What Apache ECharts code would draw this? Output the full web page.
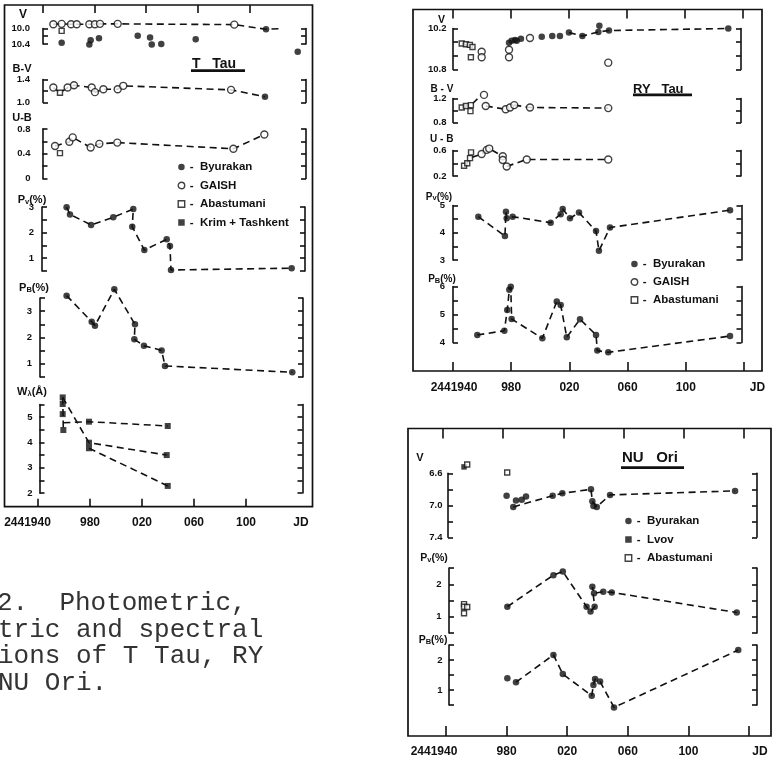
<!DOCTYPE html>
<html>
<head>
<meta charset="utf-8">
<title>T Tau, RY Tau, NU Ori</title>
<style>
  html, body { margin: 0; padding: 0; background: #fff; }
  #chart { width: 775px; height: 763px; }
</style>
</head>
<body>
<div id="chart"></div>
<script src="https://cdn.jsdelivr.net/npm/echarts@6/dist/echarts.min.js"></script>
<script>
// x is JD - 2440000, labels as printed on the plates
const jdTicks = [1940, 1980, 2020, 2060, 2100, 2140];
const jdTickLabels = ['2441940', '980', '020', '060', '100', 'JD'];

// ---------- T Tau ----------
const tTauVTicks = ['10.0', '10.4'];
const tTauBVTicks = ['1.0', '1.4'];
const tTauUBTicks = ['0', '0.4', '0.8'];
const tTauPvTicks = ['1', '2', '3'];
const tTauPbTicks = ['1', '2', '3'];
const tTauWTicks = ['2', '3', '4', '5'];

const tTauV_Byurakan = [[1958.2,10.37],[1979.5,10.41],[1980.5,10.30],[1986.9,10.25],[2016.7,10.19],[2026.2,10.23],[2027.5,10.41],[2034.8,10.40],[2061.3,10.28],[2115.4,10.02],[2139.8,10.60]];
const tTauV_GAISH = [[1951.8,9.89],[1958.2,9.88],[1965.4,9.89],[1969.8,9.89],[1979.5,9.89],[1983.8,9.89],[1987.7,9.88],[2001.3,9.88],[2091.0,9.90]];
const tTauV_Abastumani = [[1958.2,10.06]];
const tTauV_trend = [[1951.8,9.89],[1958.2,9.88],[1965.4,9.89],[1969.8,9.89],[1979.5,9.89],[1983.8,9.89],[1987.7,9.88],[2001.3,9.88],[2091.0,9.90],[2115.4,10.02],[2128.0,10.0]];

const tTauBV_GAISH = [[1951.8,1.26],[1962.8,1.26],[1967.7,1.30],[1981.3,1.26],[1983.8,1.18],[1990.3,1.23],[2001.3,1.23],[2005.6,1.29],[2088.5,1.22]];
const tTauBV_Abastumani = [[1956.9,1.17]];
const tTauBV_Byurakan = [[2114.6,1.10]];
const tTauBV_trend = [[1951.8,1.26],[1956.9,1.17],[1962.8,1.26],[1967.7,1.30],[1981.3,1.26],[1983.8,1.18],[1990.3,1.23],[2001.3,1.23],[2005.6,1.29],[2088.5,1.22],[2114.6,1.10]];

const tTauUB_GAISH = [[1953.1,0.525],[1964.1,0.595],[1966.7,0.665],[1980.5,0.50],[1987.2,0.56],[2001.0,0.58],[2090.3,0.48],[2114.1,0.71]];
const tTauUB_Abastumani = [[1956.9,0.41]];
const tTauUB_trend = [[1953.1,0.525],[1964.1,0.595],[1966.7,0.665],[1980.5,0.50],[1987.2,0.56],[2001.0,0.58],[2090.3,0.48],[2114.1,0.71]];

const tTauPv_Byurakan = [[1962.0,2.99],[1964.6,2.71],[1980.8,2.30],[1997.9,2.60],[2013.3,2.92],[2012.5,2.23],[2021.8,1.32],[2039.0,1.74],[2041.5,1.48],[2042.3,0.54],[2135.1,0.61]];
const tTauPb_Byurakan = [[1962.0,3.59],[1981.3,2.60],[1983.8,2.45],[1998.7,3.83],[2014.6,2.50],[2014.1,1.93],[2021.5,1.69],[2035.1,1.51],[2037.7,0.92],[2135.6,0.68]];

const tTauW_Krim = [[1959.0,5.78],[1959.0,5.52],[1959.0,5.12],[1959.5,4.49],[1979.2,4.82],[1979.2,3.99],[1979.2,3.77],[2039.8,4.65],[2039.0,3.50],[2039.8,2.28]];
const tTauW_trendA = [[1959.5,4.78],[1979.2,4.82],[2039.8,4.65]];
const tTauW_trendB = [[1959.0,5.78],[1979.2,3.99],[2039.0,3.50]];
const tTauW_trendC = [[1979.2,3.77],[2039.8,2.28]];
const tTauW_trendD = [[1959.0,5.78],[1959.5,4.49]];

// ---------- RY Tau ----------
const ryVTicks = ['10.2', '10.8'];
const ryBVTicks = ['0.8', '1.2'];
const ryUBTicks = ['0.2', '0.6'];
const ryPvTicks = ['3', '4', '5'];
const ryPbTicks = ['4', '5', '6'];

const ryV_Abastumani = [[1946.0,10.42],[1948.9,10.43],[1951.6,10.44],[1953.4,10.47],[1952.3,10.62]];
const ryV_GAISH = [[1959.7,10.54],[1959.7,10.62],[1978.5,10.51],[1978.5,10.62],[1992.9,10.34],[2046.7,10.70]];
const ryV_Byurakan = [[1978.5,10.41],[1980.3,10.38],[1982.6,10.37],[1983.8,10.38],[1986.7,10.35],[2001.0,10.32],[2008.2,10.31],[2013.5,10.31],[2019.7,10.26],[2028.9,10.31],[2039.9,10.25],[2040.6,10.16],[2047.2,10.23],[2129.2,10.20]];
const ryV_trendA = [[1946.0,10.42],[1953.4,10.47]];
const ryV_trendB = [[2019.7,10.26],[2028.9,10.31],[2039.9,10.25],[2047.2,10.23],[2129.2,10.20]];

const ryBV_Abastumani = [[1946.0,1.05],[1948.9,1.075],[1952.3,1.09],[1952.0,0.99]];
const ryBV_GAISH = [[1961.3,1.26],[1962.5,1.075],[1976.2,1.02],[1979.2,1.05],[1982.1,1.09],[1992.9,1.05],[2046.7,1.04]];
const ryBV_trendA = [[1946.0,1.05],[1948.9,1.075],[1952.3,1.09],[1958.0,1.22]];
const ryBV_trendB = [[1962.5,1.075],[1976.2,1.02]];
const ryBV_trendC = [[1982.1,1.09],[1992.9,1.05],[2046.7,1.04]];

const ryUB_Abastumani = [[1947.6,0.36],[1949.8,0.40],[1951.7,0.48],[1952.4,0.57]];
const ryUB_GAISH = [[1959.7,0.545],[1963.2,0.61],[1964.9,0.63],[1974.2,0.51],[1974.2,0.45],[1976.9,0.35],[1990.7,0.46],[2046.7,0.46]];
const ryUB_trendA = [[1947.6,0.36],[1949.8,0.40],[1951.7,0.48],[1959.7,0.545],[1963.2,0.61],[1964.9,0.63],[1974.2,0.51]];
const ryUB_trendB = [[1976.9,0.35],[1990.7,0.46],[2046.7,0.46]];

const ryPv_Byurakan = [[1957.4,4.59],[1975.7,3.88],[1976.4,4.77],[1976.9,4.53],[1981.0,4.59],[2007.1,4.37],[2014.0,4.68],[2015.4,4.87],[2020.4,4.53],[2026.6,4.74],[2038.3,4.06],[2040.3,3.34],[2047.9,4.19],[2130.4,4.83]];
const ryPb_Byurakan = [[1956.7,4.27],[1975.3,4.42],[1977.3,5.16],[1978.7,5.88],[1979.7,5.99],[1980.3,4.84],[2001.4,4.15],[2011.3,5.46],[2014.0,5.34],[2018.2,4.19],[2027.3,4.83],[2038.3,4.27],[2039.2,3.71],[2046.7,3.65],[2130.4,4.23]];

// ---------- NU Ori ----------
const nuVTicks = ['6.6', '7.0', '7.4'];
const nuPvTicks = ['1', '2'];
const nuPbTicks = ['1', '2'];

const nuV_Lvov = [[1951.9,6.52]];
const nuV_Abastumani = [[1954.0,6.49],[1980.4,6.59]];
const nuV_Byurakan = [[1980.0,6.88],[1984.4,7.02],[1986.2,6.94],[1990.0,6.93],[1992.8,6.89],[2010.4,6.88],[2016.8,6.85],[2035.7,6.80],[2036.6,6.95],[2037.3,7.01],[2039.5,7.02],[2048.3,6.87],[2130.8,6.82]];
const nuV_trendA = [[1951.9,6.52],[1954.0,6.49]];
const nuV_trendB = [[1984.4,7.02],[2010.4,6.88],[2016.8,6.85],[2035.7,6.80],[2036.6,6.95],[2039.5,7.02],[2048.3,6.87],[2130.8,6.82]];

const nuPv_Abastumani = [[1951.9,1.39],[1951.9,1.31],[1954.0,1.30],[1951.9,1.11]];
const nuPv_Byurakan = [[1980.5,1.31],[2010.9,2.28],[2017.1,2.39],[2032.8,1.31],[2035.4,1.16],[2038.1,1.31],[2036.6,1.92],[2037.7,1.72],[2043.8,1.77],[2049.4,1.75],[2131.9,1.13]];
const nuPb_Byurakan = [[1980.5,1.39],[1986.2,1.26],[2010.9,2.17],[2017.1,1.53],[2036.2,0.81],[2037.3,1.17],[2038.4,1.37],[2041.7,1.28],[2050.9,0.42],[2132.9,2.33]];
const nuPb_trend = [[1986.2,1.26],[2010.9,2.17],[2017.1,1.53],[2036.2,0.81],[2037.3,1.17],[2038.4,1.37],[2041.7,1.28],[2050.9,0.42],[2132.9,2.33]];

const captionLines = ['2.  Photometric,', 'tric and spectral', 'ions of T Tau, RY', 'NU Ori.'];

// ---------- building ----------
const ink = '#111';
const FONT = 'Liberation Sans';
const grids = [], xAxes = [], yAxes = [], series = [], graphic = [];

// pixel position of JD 2441940 and px per day for each plate (scan is not quite square)
const P_T = { x0: 38, k: 1.3 };
const P_R = { x0: 453, k: 1.455 };
const P_N = { x0: 446, k: 1.515 };

function jdAt(p, px) { return 1940 + (px - p.x0) / p.k; }

function pickLabel(list, v) {
  for (const s of list) if (Math.abs(parseFloat(s) - v) < 1e-6) return s;
  return '';
}

function addPlot(p, o) {
  const g = grids.length;
  grids.push({ left: o.L, top: o.yTop, width: o.R - o.L, height: o.yBot - o.yTop, containLabel: false, outerBoundsMode: 'none' });
  xAxes.push({ gridIndex: g, type: 'value', min: jdAt(p, o.L), max: jdAt(p, o.R), show: false });
  const base = {
    gridIndex: g, type: 'value',
    min: Math.min(o.vTop, o.vBot), max: Math.max(o.vTop, o.vBot),
    interval: o.step, inverse: o.vTop < o.vBot,
    splitLine: { show: false },
    axisLine: { show: true, onZero: false, lineStyle: { color: ink, width: 1.6 } },
    axisTick: { show: true, inside: true, length: 5, lineStyle: { color: ink, width: 1.6 } }
  };
  yAxes.push(Object.assign({}, base, {
    position: 'left',
    axisLabel: { show: true, margin: o.margin, color: ink, fontSize: 9.5, fontWeight: 'bold', fontFamily: FONT,
      formatter: v => pickLabel(o.labels, v) }
  }));
  yAxes.push(Object.assign({}, base, { position: 'right', axisLabel: { show: false } }));
  return { x: xAxes.length - 1, y: yAxes.length - 2 };
}

function jdLabel(v) {
  const i = jdTicks.findIndex(t => Math.abs(t - v) < 1e-6);
  if (i < 0) return '';
  if (i === 0) return '{first|' + jdTickLabels[i] + '}';
  if (i === jdTicks.length - 1) return '{last|' + jdTickLabels[i] + '}';
  return jdTickLabels[i];
}

function addJdAxis(o) {
  const g = grids.length;
  grids.push({ left: o.left, top: o.pos === 'top' ? o.y : o.y - 1, width: o.width, height: 1, containLabel: false, outerBoundsMode: 'none' });
  const lf = { color: ink, fontFamily: FONT, fontWeight: 'bold', fontSize: 12 };
  xAxes.push({
    gridIndex: g, type: 'value', position: o.pos, min: jdTicks[0], max: o.max, interval: 40,
    axisLine: { show: false, onZero: false },
    axisTick: { show: o.tickLen > 0, inside: true, length: o.tickLen, lineStyle: { color: ink, width: 1.6 } },
    axisLabel: o.labels ? Object.assign({ show: true, margin: o.margin, formatter: jdLabel,
      rich: {
        first: Object.assign({ padding: [0, o.firstShift < 0 ? -2 * o.firstShift : 0, 0, o.firstShift > 0 ? 2 * o.firstShift : 0] }, lf),
        last: Object.assign({ padding: [0, 0, 0, 2 * o.lastShift] }, lf)
      } }, lf) : { show: false },
    splitLine: { show: false }
  });
  yAxes.push({ gridIndex: g, type: 'value', show: false, min: 0, max: 1 });
}

const sym = {
  'Byurakan': { symbol: 'circle', symbolSize: 6.5, itemStyle: { color: ink } },
  'GAISH': { symbol: 'circle', symbolSize: 7, itemStyle: { color: '#fff', borderColor: ink, borderWidth: 1.4 } },
  'Abastumani': { symbol: 'rect', symbolSize: 5, itemStyle: { color: '#fff', borderColor: ink, borderWidth: 1.4 } },
  'Krim + Tashkent': { symbol: 'rect', symbolSize: 6, itemStyle: { color: ink } },
  'Lvov': { symbol: 'rect', symbolSize: 5.5, itemStyle: { color: ink } }
};

function marks(ax, name, data) {
  series.push(Object.assign({ type: 'scatter', name, xAxisIndex: ax.x, yAxisIndex: ax.y, data, clip: false, z: 3, silent: true }, sym[name]));
}
function dashed(ax, data) {
  series.push({ type: 'line', xAxisIndex: ax.x, yAxisIndex: ax.y, data, showSymbol: false, symbol: 'none', clip: false, z: 2, silent: true,
    lineStyle: { color: ink, width: 1.6, type: [7, 4.5] } });
}

// ---- T Tau plate ----
const tV = addPlot(P_T, { L: 43, R: 306, yTop: 28.5, yBot: 44, vTop: 10.0, vBot: 10.4, step: 0.2, labels: tTauVTicks, margin: 13 });
const tBV = addPlot(P_T, { L: 43, R: 306, yTop: 79.5, yBot: 102.5, vTop: 1.4, vBot: 1.0, step: 0.2, labels: tTauBVTicks, margin: 13 });
const tUB = addPlot(P_T, { L: 42.5, R: 306, yTop: 129, yBot: 178.5, vTop: 0.8, vBot: 0, step: 0.2, labels: tTauUBTicks, margin: 12 });
const tPv = addPlot(P_T, { L: 42, R: 305, yTop: 207, yBot: 271, vTop: 3, vBot: 0.5, step: 0.5, labels: tTauPvTicks, margin: 8 });
const tPb = addPlot(P_T, { L: 40, R: 303, yTop: 298, yBot: 377, vTop: 3.5, vBot: 0.5, step: 0.5, labels: tTauPbTicks, margin: 8 });
const tW = addPlot(P_T, { L: 39.5, R: 302.5, yTop: 404.5, yBot: 493, vTop: 5.5, vBot: 2, step: 0.5, labels: tTauWTicks, margin: 7 });

dashed(tV, tTauV_trend);
marks(tV, 'Byurakan', tTauV_Byurakan);
marks(tV, 'GAISH', tTauV_GAISH);
marks(tV, 'Abastumani', tTauV_Abastumani);
dashed(tBV, tTauBV_trend);
marks(tBV, 'GAISH', tTauBV_GAISH);
marks(tBV, 'Abastumani', tTauBV_Abastumani);
marks(tBV, 'Byurakan', tTauBV_Byurakan);
dashed(tUB, tTauUB_trend);
marks(tUB, 'GAISH', tTauUB_GAISH);
marks(tUB, 'Abastumani', tTauUB_Abastumani);
dashed(tPv, tTauPv_Byurakan);
marks(tPv, 'Byurakan', tTauPv_Byurakan);
dashed(tPb, tTauPb_Byurakan);
marks(tPb, 'Byurakan', tTauPb_Byurakan);
[tTauW_trendA, tTauW_trendB, tTauW_trendC, tTauW_trendD].forEach(d => dashed(tW, d));
marks(tW, 'Krim + Tashkent', tTauW_Krim);

addJdAxis({ left: 43, width: 206.4, y: 5, pos: 'top', max: 2100, tickLen: 8 });
addJdAxis({ left: 38, width: 208, y: 506.7, pos: 'bottom', max: 2100, tickLen: 8 });
addJdAxis({ left: 38, width: 260, y: 506.7, pos: 'bottom', max: 2140, tickLen: 0, labels: true, margin: 9.5, firstShift: -10.5, lastShift: 3 });

// ---- RY Tau plate ----
const rV = addPlot(P_R, { L: 453, R: 741, yTop: 28.5, yBot: 69.5, vTop: 10.2, vBot: 10.8, step: 0.2, labels: ryVTicks, margin: 6.5 });
const rBV = addPlot(P_R, { L: 453, R: 741, yTop: 98.5, yBot: 122.5, vTop: 1.2, vBot: 0.8, step: 0.2, labels: ryBVTicks, margin: 6.5 });
const rUB = addPlot(P_R, { L: 453, R: 741, yTop: 150.5, yBot: 176, vTop: 0.6, vBot: 0.2, step: 0.2, labels: ryUBTicks, margin: 6.5 });
const rPv = addPlot(P_R, { L: 453, R: 741.5, yTop: 205.5, yBot: 260, vTop: 5, vBot: 3, step: 0.5, labels: ryPvTicks, margin: 8 });
const rPb = addPlot(P_R, { L: 453, R: 741.5, yTop: 286.5, yBot: 342.5, vTop: 6, vBot: 4, step: 0.5, labels: ryPbTicks, margin: 8 });

dashed(rV, ryV_trendA);
dashed(rV, ryV_trendB);
marks(rV, 'Byurakan', ryV_Byurakan);
marks(rV, 'GAISH', ryV_GAISH);
marks(rV, 'Abastumani', ryV_Abastumani);
[ryBV_trendA, ryBV_trendB, ryBV_trendC].forEach(d => dashed(rBV, d));
marks(rBV, 'GAISH', ryBV_GAISH);
marks(rBV, 'Abastumani', ryBV_Abastumani);
dashed(rUB, ryUB_trendA);
dashed(rUB, ryUB_trendB);
marks(rUB, 'GAISH', ryUB_GAISH);
marks(rUB, 'Abastumani', ryUB_Abastumani);
dashed(rPv, ryPv_Byurakan);
marks(rPv, 'Byurakan', ryPv_Byurakan);
dashed(rPb, ryPb_Byurakan);
marks(rPb, 'Byurakan', ryPb_Byurakan);

addJdAxis({ left: 453, width: 290, y: 9.5, pos: 'top', max: 2140, tickLen: 9 });
addJdAxis({ left: 453, width: 291, y: 371, pos: 'bottom', max: 2140, tickLen: 9, labels: true, margin: 10.5, firstShift: 1, lastShift: 13.5 });

// ---- NU Ori plate ----
const nV = addPlot(P_N, { L: 448, R: 757, yTop: 473.3, yBot: 537.3, vTop: 6.6, vBot: 7.4, step: 0.2, labels: nuVTicks, margin: 5.5 });
const nPv = addPlot(P_N, { L: 449, R: 757, yTop: 568, yBot: 633, vTop: 2.5, vBot: 0.5, step: 0.5, labels: nuPvTicks, margin: 7.5 });
const nPb = addPlot(P_N, { L: 449, R: 757, yTop: 645, yBot: 705, vTop: 2.5, vBot: 0.5, step: 0.5, labels: nuPbTicks, margin: 6.5 });

dashed(nV, nuV_trendA);
dashed(nV, nuV_trendB);
marks(nV, 'Byurakan', nuV_Byurakan);
marks(nV, 'Lvov', nuV_Lvov);
marks(nV, 'Abastumani', nuV_Abastumani);
dashed(nPv, nuPv_Byurakan);
marks(nPv, 'Byurakan', nuPv_Byurakan);
marks(nPv, 'Abastumani', nuPv_Abastumani);
dashed(nPb, nuPb_trend);
marks(nPb, 'Byurakan', nuPb_Byurakan);

addJdAxis({ left: 443, width: 301, y: 428.5, pos: 'top', max: 2140, tickLen: 10 });
addJdAxis({ left: 446, width: 303, y: 736, pos: 'bottom', max: 2140, tickLen: 10, labels: true, margin: 9.5, firstShift: -12, lastShift: 11 });

// ---- frames, names, titles, caption ----
function frame(x, y, w, h) {
  graphic.push({ type: 'rect', silent: true, shape: { x, y, width: w, height: h }, style: { fill: 'none', stroke: ink, lineWidth: 1.7 } });
}
frame(4.5, 5, 308, 501.7);
frame(413, 9.5, 349, 361.5);
frame(408, 428.5, 363, 307.5);

const subRich = { s: { fontSize: 7.5, fontWeight: 'bold', fontFamily: FONT, fill: ink, verticalAlign: 'bottom' } };
function gtext(x, y, text, opt) {
  graphic.push({ type: 'text', x, y, silent: true,
    style: Object.assign({ text, fill: ink, fontFamily: FONT, fontWeight: 'bold', fontSize: 11, align: 'center', verticalAlign: 'middle', rich: subRich }, opt || {}) });
}
function underline(x, y, w, h) {
  graphic.push({ type: 'rect', silent: true, shape: { x, y, width: w, height: h }, style: { fill: ink } });
}

gtext(23, 15, 'V', { fontSize: 12 });
gtext(22, 69, 'B-V');
gtext(22, 117.5, 'U-B');
gtext(32, 200, 'P{s|v}(%)');
gtext(34, 288, 'P{s|B}(%)');
gtext(32, 392, 'W{s|λ}(Å)');

gtext(441.5, 20, 'V', { fontSize: 10.5 });
gtext(442, 89.5, 'B - V', { fontSize: 10 });
gtext(441.7, 139, 'U - B', { fontSize: 10 });
gtext(439, 197, 'P{s|v}(%)', { fontSize: 10 });
gtext(442, 279.5, 'P{s|B}(%)', { fontSize: 10 });

gtext(420, 458, 'V', { fontSize: 11 });
gtext(434, 558, 'P{s|v}(%)', { fontSize: 10.5 });
gtext(433, 640, 'P{s|B}(%)', { fontSize: 10.5 });

gtext(192, 64.5, 'T   Tau', { fontSize: 14, align: 'left' });
underline(191, 69.3, 54, 2.6);
gtext(633, 89, 'RY   Tau', { fontSize: 13, align: 'left' });
underline(633, 93.5, 59, 2.8);
gtext(622, 458, 'NU   Ori', { fontSize: 15, align: 'left' });
underline(621, 466.3, 63, 2.8);

const capY = [603, 630, 656.5, 683.5];
captionLines.forEach((line, i) => {
  graphic.push({ type: 'text', x: i === 0 ? -3 : -2, y: capY[i], silent: true,
    style: { text: line, fill: '#333', fontFamily: 'Liberation Mono', fontSize: 26, fontWeight: 'normal', align: 'left', verticalAlign: 'middle' } });
});

// ---- legends ----
const legendIcon = {
  'Byurakan': { icon: 'circle', itemStyle: { color: ink, borderWidth: 0 } },
  'GAISH': { icon: 'circle', itemStyle: { color: '#fff', borderColor: ink, borderWidth: 1.4 } },
  'Abastumani': { icon: 'rect', itemStyle: { color: '#fff', borderColor: ink, borderWidth: 1.4 } },
  'Krim + Tashkent': { icon: 'rect', itemStyle: { color: ink, borderWidth: 0 } },
  'Lvov': { icon: 'rect', itemStyle: { color: ink, borderWidth: 0 } }
};
function legendAt(names, left, top, gap) {
  return {
    data: names.map(n => Object.assign({ name: n }, legendIcon[n])),
    left, top, orient: 'vertical', align: 'left', padding: 0, itemGap: gap,
    itemWidth: 6.5, itemHeight: 6.5, selectedMode: false,
    formatter: n => '-  ' + n,
    textStyle: { color: ink, fontFamily: FONT, fontWeight: 'bold', fontSize: 11.5, lineHeight: 12 }
  };
}
const legends = [
  legendAt(['Byurakan', 'GAISH', 'Abastumani', 'Krim + Tashkent'], 177.5, 161, 6.5),
  legendAt(['Byurakan', 'GAISH', 'Abastumani'], 630.5, 258, 6),
  legendAt(['Byurakan', 'Lvov', 'Abastumani'], 624.5, 515, 6.5)
];

const chart = echarts.init(document.getElementById('chart'), null, { renderer: 'canvas' });
chart.setOption({
  animation: false,
  backgroundColor: '#fff',
  grid: grids,
  xAxis: xAxes,
  yAxis: yAxes,
  legend: legends,
  series: series,
  graphic: graphic
});
</script>
</body>
</html>
